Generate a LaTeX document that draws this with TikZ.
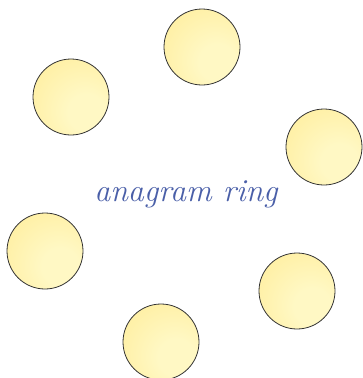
\documentclass[tikz,border=0pt]{standalone}
\usetikzlibrary{calc}

\definecolor{balldeep}{HTML}{FFE680}
\definecolor{ballpale}{HTML}{FFF8C4}
\definecolor{ringblue}{HTML}{4A5FA8}

\pgfdeclareradialshading{ringball}{\pgfpoint{12bp}{-12bp}}{%
  color(0bp)=(ballpale); color(12bp)=(ballpale); color(64bp)=(balldeep); color(80bp)=(balldeep)}

\begin{document}
\begin{tikzpicture}[x=1pt, y=-1pt,
    ball/.style={circle, minimum size=76pt, inner sep=0pt, shading=ringball, draw=black!80, line width=0.8pt},
    ringlabel/.style={text=ringblue, font=\fontsize{32}{36}\selectfont\itshape}]
  \useasboundingbox (0,0) rectangle (362,378);

  % the six letters round the ring
  \node[ball] (top)   at (202,47)  {};
  \node[ball] (upl)   at (71,97)   {};
  \node[ball] (upr)   at (324,147) {};
  \node[ball] (lowl)  at (45,251)  {};
  \node[ball] (lowr)  at (297,291) {};
  \node[ball] (bot)   at (161,342) {};

  \node[ringlabel] (lbl) at (186,194) {anagram ring};
\end{tikzpicture}
\end{document}
